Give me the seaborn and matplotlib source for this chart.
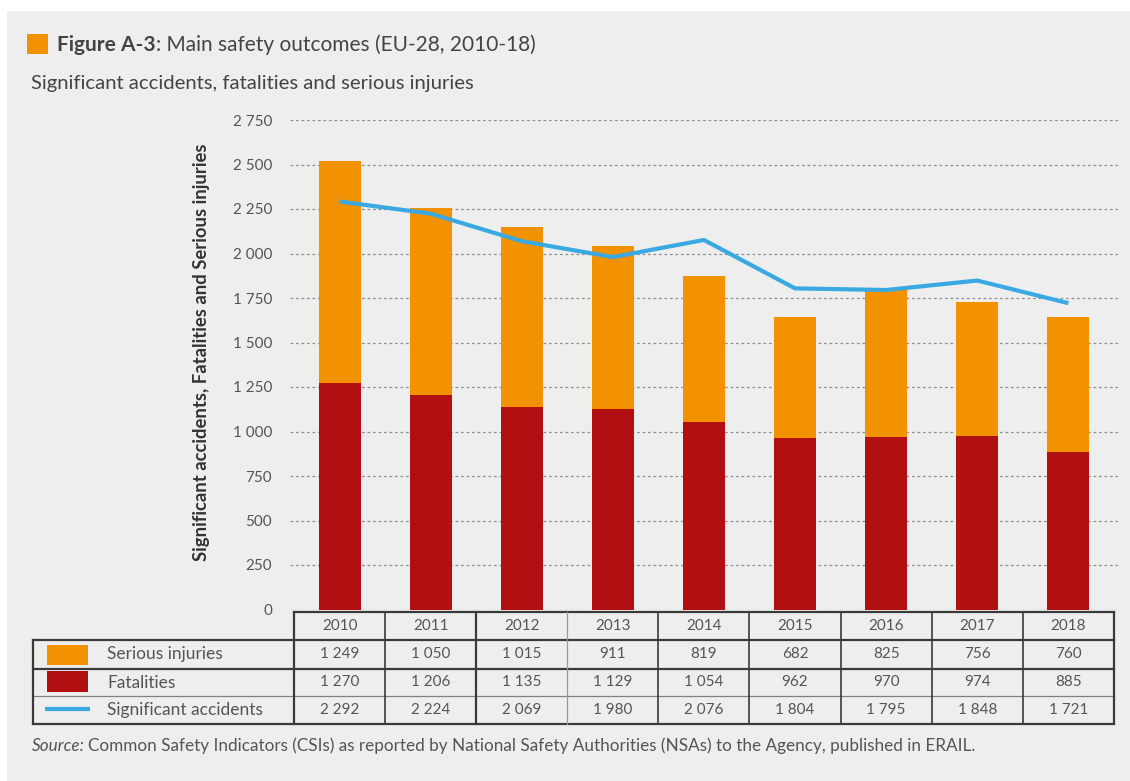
import numpy as np
import pandas as pd
import matplotlib
matplotlib.use("Agg")
import matplotlib.pyplot as plt
from matplotlib.patches import Rectangle
from matplotlib.ticker import FuncFormatter, MultipleLocator
import seaborn as sns

# ---- data -------------------------------------------------------------
years = ["2010", "2011", "2012", "2013", "2014", "2015", "2016", "2017", "2018"]
serious_injuries = [1249, 1050, 1015, 911, 819, 682, 825, 756, 760]
fatalities = [1270, 1206, 1135, 1129, 1054, 962, 970, 974, 885]
significant_accidents = [2292, 2224, 2069, 1980, 2076, 1804, 1795, 1848, 1721]
series_labels = ["Serious injuries", "Fatalities", "Significant accidents"]

# ---- style ------------------------------------------------------------
ORANGE = "#f39200"
RED = "#b20f12"
BLUE = "#3aa9e1"
BG = "#eeeeee"
TXT = "#555555"
DARK = "#3a3a3a"

sns.set_theme(style="white")
plt.rcParams["font.family"] = ["Lato", "DejaVu Sans"]

W, H = 1130, 781
fig = plt.figure(figsize=(W / 100, H / 100), dpi=100)
fig.patch.set_facecolor("white")


def fx(px):
    return px / W


def fy(py):
    return 1 - py / H


def fmt(v):
    return f"{int(v):,}".replace(",", " ")


# grey panel behind everything
fig.patches.append(Rectangle((fx(7), 0), 1 - fx(7), fy(11), transform=fig.transFigure,
                             facecolor=BG, edgecolor="none", zorder=-10))

df = pd.DataFrame({
    "year": years,
    "serious": serious_injuries,
    "fatal": fatalities,
    "accidents": significant_accidents,
})
df["total"] = df["serious"] + df["fatal"]

# ---- main chart -------------------------------------------------------
COL_W = 91.1      # px per year column
COL0 = 294        # px left edge of first year column
AX_L, AX_R = 290, 1118
Y0, Y1 = 609.5, 120

ax = fig.add_axes([fx(AX_L), fy(Y0), fx(AX_R - AX_L), (Y0 - Y1) / H])
ax.set_facecolor("none")

sns.barplot(data=df, x="year", y="total", color=ORANGE, saturation=1, width=0.46,
            errorbar=None, linewidth=0, ax=ax, zorder=2)
sns.barplot(data=df, x="year", y="fatal", color=RED, saturation=1, width=0.46,
            errorbar=None, linewidth=0, ax=ax, zorder=3)
sns.lineplot(x=df.index, y=df["accidents"], color=BLUE, linewidth=3.0, ax=ax,
             zorder=4, solid_capstyle="butt")

ax.set_xlim(-0.5 - (COL0 - AX_L) / COL_W, 8.5 + (AX_R - (COL0 + 9 * COL_W)) / COL_W)
ax.set_ylim(0, 2750)
ax.yaxis.set_major_locator(MultipleLocator(250))
ax.yaxis.set_major_formatter(FuncFormatter(lambda v, p: fmt(v)))
ax.set_xticks([])
ax.set_xlabel("")
ax.set_ylabel("")
ax.tick_params(axis="y", length=0, pad=13, labelsize=11, labelcolor=TXT)
ax.yaxis.grid(True, color="#8f8f8f", linestyle=(0, (2.2, 2.2)), linewidth=0.9)
ax.set_axisbelow(True)
for s in ax.spines.values():
    s.set_visible(False)

fig.text(fx(201), fy(352), "Significant accidents, Fatalities and Serious injuries",
         rotation=90, ha="center", va="center", fontsize=13.3, fontweight="bold",
         color="#333333")

# ---- data table below the chart ---------------------------------------
T_L, T_R, T_TOP, T_BOT = 32.7, COL0 + 9 * COL_W, 612, 724
tax = fig.add_axes([fx(T_L), fy(T_BOT), fx(T_R - T_L), (T_BOT - T_TOP) / H])
xl = -0.5 - (COL0 - T_L) / COL_W
tax.set_xlim(xl, 8.5)
tax.set_ylim(T_BOT - T_TOP, 0)
tax.axis("off")

thick, thin = 1.6, 0.9
kw = dict(clip_on=False, solid_capstyle="projecting")
# horizontal rules
tax.plot([-0.5, 8.5], [0, 0], color=DARK, lw=thick, **kw)
tax.plot([xl, 8.5], [28, 28], color=DARK, lw=thick, **kw)
tax.plot([xl, 8.5], [57, 57], color=DARK, lw=thick, **kw)
tax.plot([xl, 8.5], [84, 84], color="#808080", lw=thin, **kw)
tax.plot([xl, 8.5], [112, 112], color=DARK, lw=thick, **kw)
# vertical rules
tax.plot([xl, xl], [28, 112], color=DARK, lw=thick, **kw)
for i in range(10):
    xb = i - 0.5
    if i == 3:
        tax.plot([xb, xb], [0, 112], color="#9a9a9a", lw=thin, **kw)
    else:
        tax.plot([xb, xb], [0, 112], color=DARK, lw=thick if i in (0, 2, 9) else 1.2, **kw)

row_mid = [14, 42.5, 70.5, 98]
NUM_FS = 11
for i, y in enumerate(years):
    tax.text(i, row_mid[0], y, ha="center", va="center", fontsize=NUM_FS, color=TXT)
    tax.text(i, row_mid[1], fmt(serious_injuries[i]), ha="center", va="center", fontsize=NUM_FS, color=TXT)
    tax.text(i, row_mid[2], fmt(fatalities[i]), ha="center", va="center", fontsize=NUM_FS, color=TXT)
    tax.text(i, row_mid[3], fmt(significant_accidents[i]), ha="center", va="center", fontsize=NUM_FS, color=TXT)

# legend keys inside the table
sw_x = -0.5 - (COL0 - 47) / COL_W
sw_w = 41 / COL_W
tax.add_patch(Rectangle((sw_x, 33), sw_w, 20, facecolor=ORANGE, edgecolor="none"))
tax.add_patch(Rectangle((sw_x, 59), sw_w, 21, facecolor=RED, edgecolor="none"))
tax.plot([-0.5 - (COL0 - 45) / COL_W, -0.5 - (COL0 - 90) / COL_W], [97, 97],
         color=BLUE, lw=3, solid_capstyle="butt")
lab_x = -0.5 - (COL0 - 107) / COL_W
for lbl, y in zip(series_labels, row_mid[1:]):
    tax.text(lab_x, y, lbl, ha="left", va="center", fontsize=12.5, color=TXT)

# ---- titles and source -------------------------------------------------
fig.patches.append(Rectangle((fx(27), fy(54)), fx(21), 20 / H, transform=fig.transFigure,
                             facecolor=ORANGE, edgecolor="none"))
renderer = fig.canvas.get_renderer()
t1 = fig.text(fx(57), fy(45), "Figure A-3", fontsize=15, fontweight="bold",
              color="#444444", va="center", ha="left")
bb = t1.get_window_extent(renderer)
fig.text(bb.x1 / W, fy(45), ": Main safety outcomes (EU-28, 2010-18)", fontsize=15,
         color="#444444", va="center", ha="left")
fig.text(fx(31), fy(84), "Significant accidents, fatalities and serious injuries",
         fontsize=14.6, color="#444444", va="center", ha="left")

s1 = fig.text(fx(32), fy(746), "Source:", fontsize=12.3, style="italic", color=TXT,
              va="center", ha="left")
bb = s1.get_window_extent(renderer)
fig.text(bb.x1 / W + fx(3), fy(746),
         "Common Safety Indicators (CSIs) as reported by National Safety Authorities (NSAs) "
         "to the Agency, published in ERAIL.",
         fontsize=12.3, color=TXT, va="center", ha="left")

fig.savefig("out.png", dpi=100, facecolor=fig.get_facecolor())
